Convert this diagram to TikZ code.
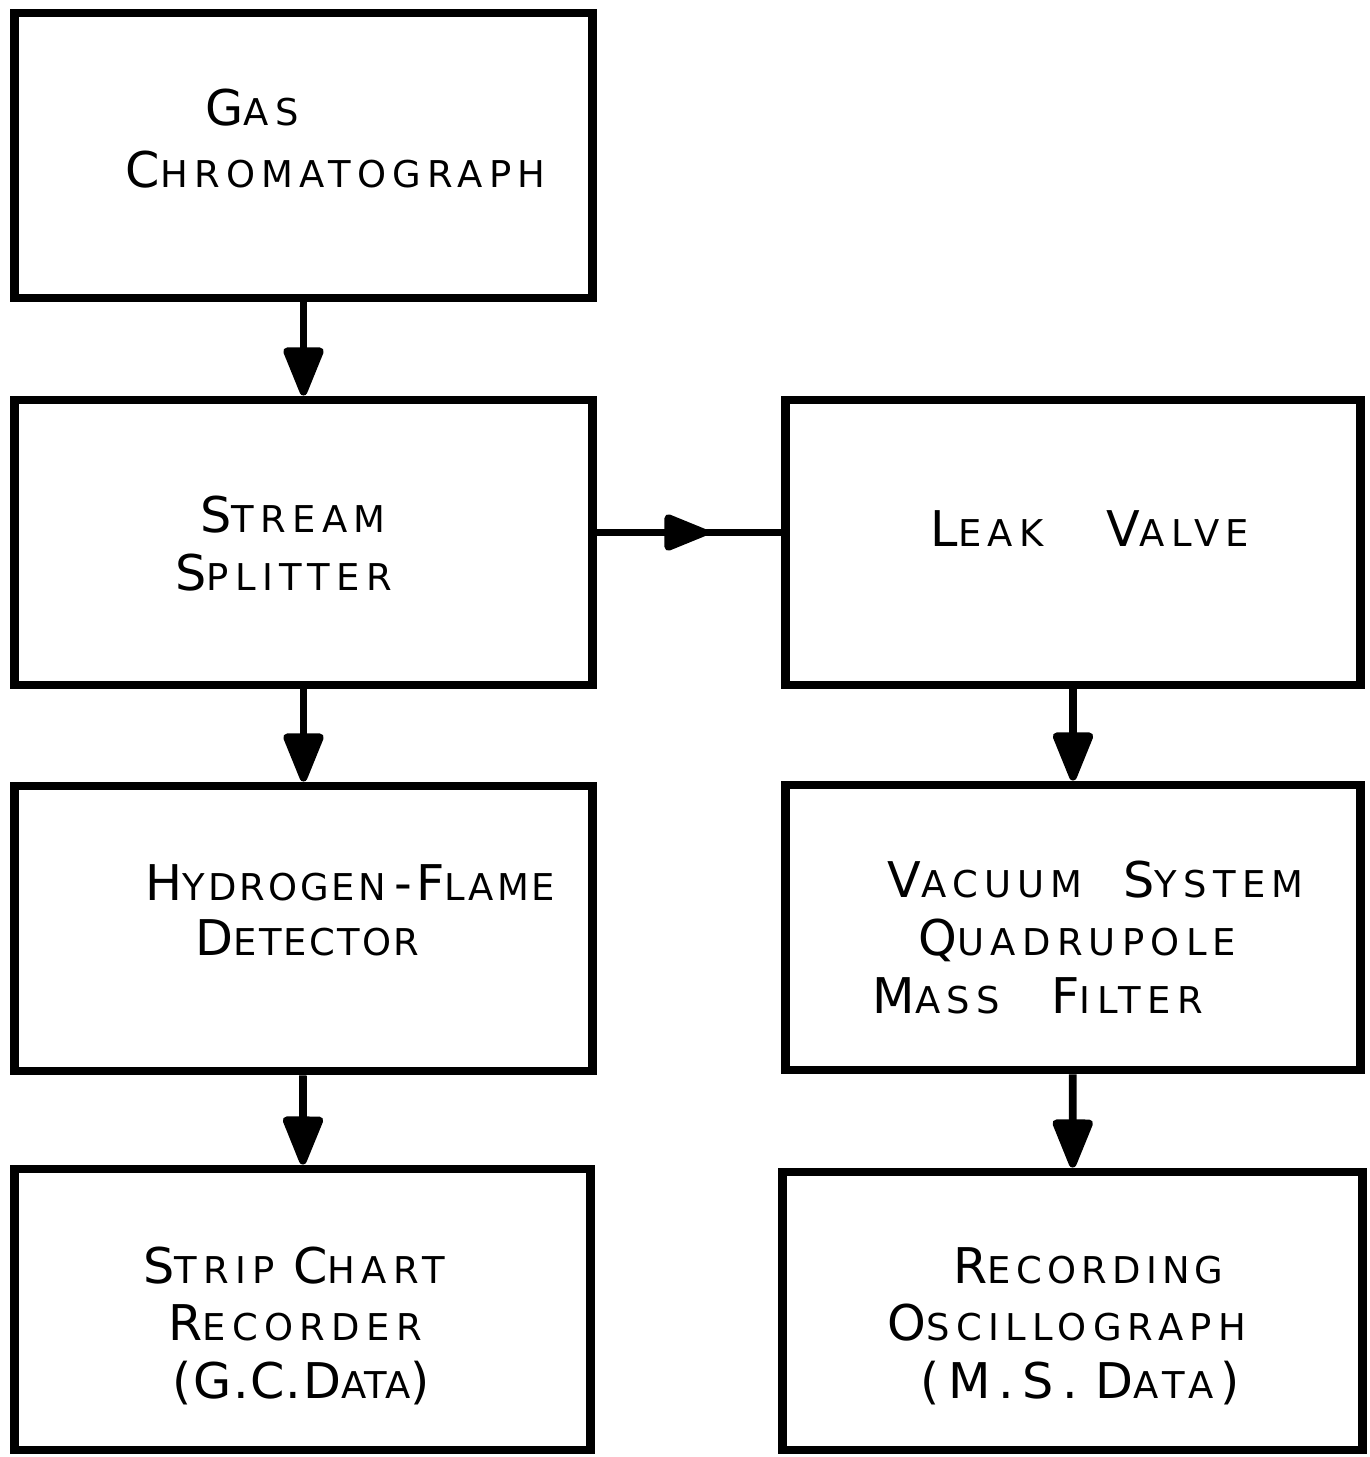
\documentclass[tikz,border=0pt]{standalone}
\usepackage{fontspec}
\newfontfamily\letfont[LetterSpace=17]{DejaVu Sans}
\usetikzlibrary{arrows.meta,decorations.markings}

\newcommand\cp[1]{{\fontsize{14}{16}\selectfont #1}}
\newcommand\wgap[1][1.1em]{\hspace{#1}}
\newcommand\ls[1]{\addfontfeature{LetterSpace=#1}}

\begin{document}
\begin{tikzpicture}[
        x=0.01cm, y=-0.01cm,
        blk/.style={draw, line width=2.5pt, rectangle, inner sep=0pt,
            minimum width=5.77cm, minimum height=2.85cm},
        txt/.style={anchor=base west, inner sep=0pt,
            font=\letfont\fontsize{10.5}{12}\selectfont},
        flow/.style={line width=2.2pt, -{Triangle[round,length=5.5mm,width=4.2mm]}},
        midflow/.style={line width=2.2pt, decoration={markings,
            mark=at position 0.6 with {\arrow{Triangle[round,length=5mm,width=3.8mm]}}},
            postaction={decorate}},
    ]

    \useasboundingbox (0,0) rectangle (1370,1457);

    % left column
    \node[blk] (gc) at (303.5,155.5) {};
    \node[blk] (ss) at (303.5,542.5) {};
    \node[blk] (hfd) at (303.5,928.5) {};
    \node[blk, minimum width=5.75cm, minimum height=2.81cm] (scr) at (302.5,1309.5) {};

    % right column
    \node[blk, minimum width=5.74cm] (lv) at (1073,542.5) {};
    \node[blk, minimum width=5.74cm] (vs) at (1073,927.5) {};
    \node[blk, minimum width=5.79cm, minimum height=2.78cm] (ro) at (1072.5,1311) {};

    % lettering
    \node[txt] (gc1) at (205,125) {\cp{G}AS};
    \node[txt] (gc2) at (125,187) {\cp{C}HROMATOGRAPH};
    \node[txt] (ss1) at (200,532) {\cp{S}TREAM};
    \node[txt] (ss2) at (175,590) {\cp{S}PLITTER};
    \node[txt] (hfd1) at (145,900) {\ls{8}\cp{H}YDROGEN\hspace{2.5pt}\cp{-F}LAME};
    \node[txt] (hfd2) at (195,955) {\ls{6}\cp{D}ETECTOR};
    \node[txt] (scr1) at (143,1283) {\cp{S}TRIP \cp{C}HART};
    \node[txt] (scr2) at (168,1340) {\cp{R}ECORDER};
    \node[txt] (scr3) at (172,1398) {\ls{3}\cp{(G.C.D}ATA\cp{)}};

    \node[txt] (lv1) at (930,546) {\cp{L}EAK\wgap[1.7em]\cp{V}ALVE};
    \node[txt] (vs1) at (887,897) {\cp{V}ACUUM\wgap\cp{S}YSTEM};
    \node[txt] (vs2) at (918,955) {\cp{Q}UADRUPOLE};
    \node[txt] (vs3) at (872,1013) {\cp{M}ASS\wgap[1.4em]\cp{F}ILTER};
    \node[txt] (ro1) at (953,1283) {\ls{14}\cp{R}ECORDING};
    \node[txt] (ro2) at (887,1340) {\cp{O}SCILLOGRAPH};
    \node[txt] (ro3) at (920,1398) {\cp{(\,M.S.\hspace{5pt}D}ATA\hspace{2pt}\cp{)}};

    % connectors
    \draw[flow] (gc) -- (ss);
    \draw[flow] (ss) -- (hfd);
    \draw[flow] (hfd) -- (scr);
    \draw[flow] (lv) -- (vs);
    \draw[flow] (vs) -- (ro);
    \draw[midflow] ([yshift=0.1cm]ss.east) -- ([yshift=0.1cm]lv.west);

\end{tikzpicture}
\end{document}
